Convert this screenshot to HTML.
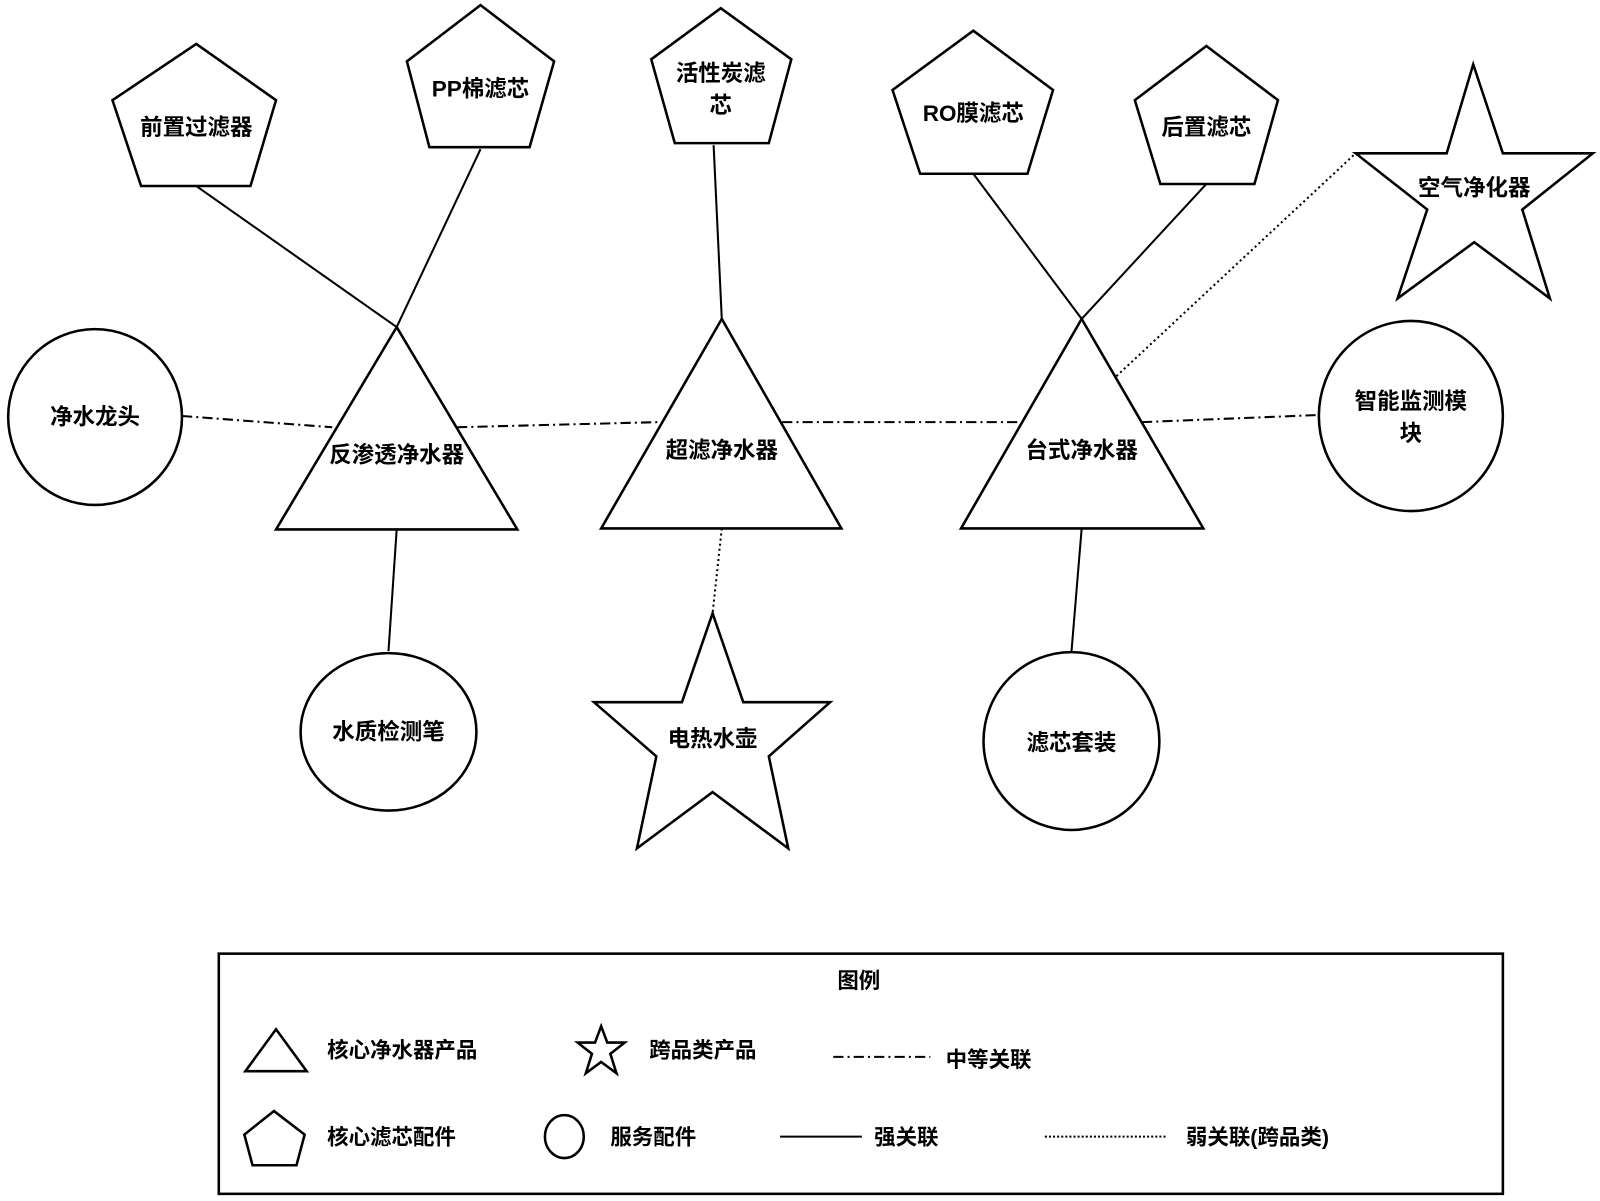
<!DOCTYPE html>
<html><head><meta charset="utf-8"><style>
html,body{margin:0;padding:0;background:#fff;width:1600px;height:1201px;overflow:hidden}
svg{display:block}
text{font-family:"Liberation Sans","Noto Sans CJK SC",sans-serif;font-weight:bold;fill:#000;text-anchor:middle;dominant-baseline:central}
.s{fill:#fff;stroke:#000;stroke-width:2.5}
.l{stroke:#000;stroke-width:2;fill:none}
</style></head><body>
<svg width="1600" height="1201" viewBox="0 0 1565 1175" preserveAspectRatio="none" xmlns="http://www.w3.org/2000/svg">
<!-- connectors -->
<g class="l">
<line x1="192" y1="182" x2="388" y2="320"/>
<line x1="470" y1="146" x2="388" y2="320"/>
<line x1="698" y1="142" x2="706" y2="312"/>
<line x1="952" y1="170" x2="1058" y2="312"/>
<line x1="1180" y1="180" x2="1058" y2="312"/>
<line x1="388" y1="518" x2="380" y2="637"/>
<line x1="1058" y1="517" x2="1048" y2="638"/>
</g>
<g class="l" stroke-dasharray="10,4,2,4">
<line x1="178" y1="407" x2="325" y2="418"/>
<line x1="447" y1="418" x2="643" y2="413"/>
<line x1="765" y1="413" x2="1000" y2="413"/>
<line x1="1117" y1="413" x2="1290" y2="406"/>
</g>
<g class="l" stroke-dasharray="2,3">
<line x1="706" y1="517" x2="697" y2="600"/>
<line x1="1092" y1="368" x2="1326" y2="150"/>
</g>
<!-- pentagons -->
<polygon class="s" points="192,43 270,98 245,182 138,182 110,98"/>
<polygon class="s" points="470,5 542,60 518,144 420,144 398,60"/>
<polygon class="s" points="705,8 774,58 752,140 660,140 637,58"/>
<polygon class="s" points="952,30 1030,88 1005,170 900,170 873,88"/>
<polygon class="s" points="1180,45 1250,98 1227,180 1135,180 1110,98"/>
<!-- triangles -->
<polygon class="s" points="388,320 506,518 270,518"/>
<polygon class="s" points="706,312 823,517 588,517"/>
<polygon class="s" points="1058,312 1177,517 940,517"/>
<!-- circles -->
<ellipse class="s" cx="93" cy="408" rx="85" ry="86"/>
<ellipse class="s" cx="1380" cy="407" rx="90" ry="93"/>
<ellipse class="s" cx="380" cy="716" rx="86" ry="77"/>
<ellipse class="s" cx="1048" cy="725" rx="86" ry="87"/>
<!-- stars -->
<polygon class="s" points="1441,63 1470,150 1558,150 1489,205 1516,292 1442,237 1367,292 1396,205 1326,150 1415,150"/>
<polygon class="s" points="697,600 727,687 812,687 752,740 771,830 697,775 623,830 642,740 581,687 667,687"/>
<!-- labels -->
<g font-size="22">
<text x="192" y="125">前置过滤器</text>
<text x="470" y="87">PP棉滤芯</text>
<text x="705" y="72">活性炭滤</text>
<text x="705" y="103">芯</text>
<text x="952" y="111">RO膜滤芯</text>
<text x="1180" y="125">后置滤芯</text>
<text x="1442" y="184">空气净化器</text>
<text x="93" y="408">净水龙头</text>
<text x="1380" y="393">智能监测模</text>
<text x="1380" y="424">块</text>
<text x="388" y="445">反渗透净水器</text>
<text x="706" y="441">超滤净水器</text>
<text x="1058" y="441">台式净水器</text>
<text x="380" y="716">水质检测笔</text>
<text x="697" y="723">电热水壶</text>
<text x="1048" y="727">滤芯套装</text>
</g>
<!-- legend -->
<rect x="214" y="933" width="1256" height="235" fill="#fff" stroke="#000" stroke-width="2.5"/>
<g font-size="21">
<text x="840" y="960">图例</text>
<polygon class="s" points="270,1007 300,1048 240,1048"/>
<text x="320" y="1028" style="text-anchor:start">核心净水器产品</text>
<polygon class="s" points="588,1004 594,1020 611,1020 597,1031 603,1050 588,1039 573,1050 579,1031 565,1020 582,1020"/>
<text x="635" y="1028" style="text-anchor:start">跨品类产品</text>
<line class="l" x1="815" y1="1034" x2="910" y2="1034" stroke-dasharray="10,4,2,4"/>
<text x="925" y="1037" style="text-anchor:start">中等关联</text>
<polygon class="s" points="268,1087 298,1110 290,1140 247,1140 239,1110"/>
<text x="320" y="1113" style="text-anchor:start">核心滤芯配件</text>
<ellipse class="s" cx="552" cy="1112" rx="19" ry="21"/>
<text x="597" y="1113" style="text-anchor:start">服务配件</text>
<line class="l" x1="763" y1="1112" x2="843" y2="1112" stroke-width="2.5"/>
<text x="855" y="1113" style="text-anchor:start">强关联</text>
<line class="l" x1="1022" y1="1112" x2="1142" y2="1112" stroke-dasharray="2,2" stroke-width="1.5"/>
<text x="1160" y="1113" style="text-anchor:start">弱关联(跨品类)</text>
</g>
</svg>
</body></html>
